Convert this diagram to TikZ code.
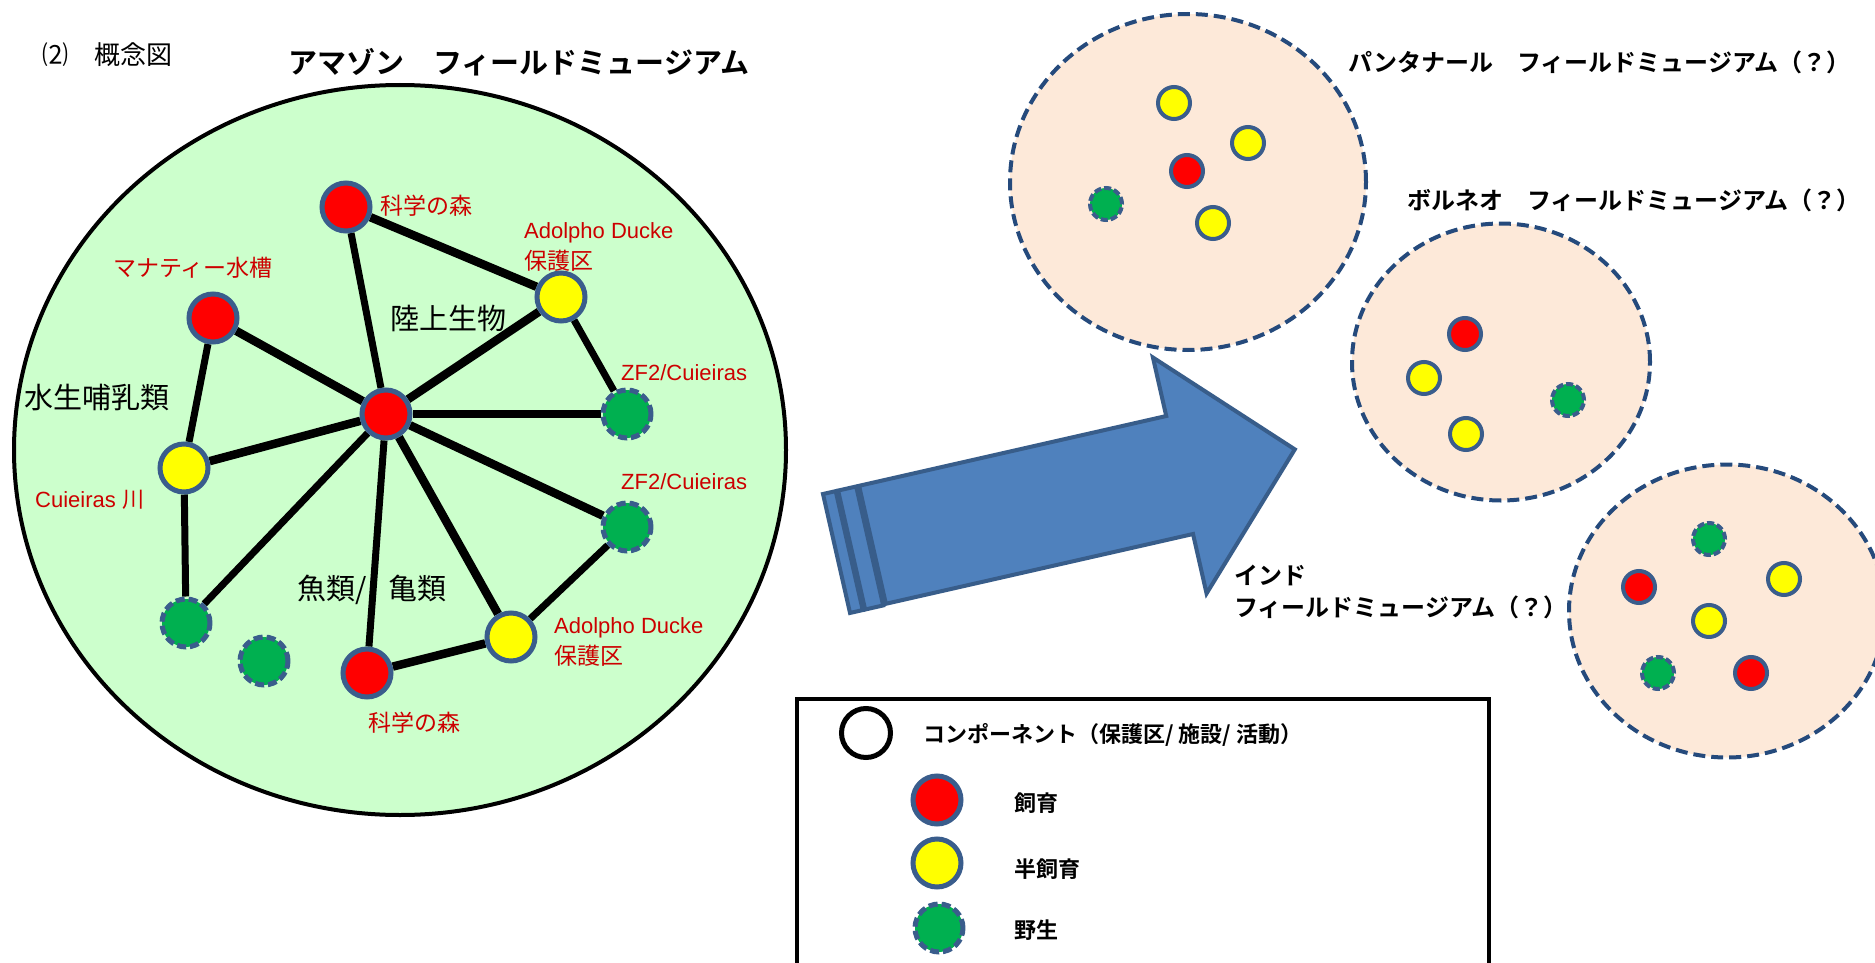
\documentclass[tikz,border=0pt]{standalone}
\usepackage{fontspec}
\newfontfamily\jp{Noto Sans CJK JP}
\newfontfamily\jpb{Noto Sans CJK JP Bold}
\newfontfamily\lat{Liberation Sans}
\usetikzlibrary{shapes.geometric}
\definecolor{nodeborder}{HTML}{3A5D8C}
\definecolor{nred}{HTML}{FF0000}
\definecolor{nyellow}{HTML}{FFFF00}
\definecolor{ngreen}{HTML}{00B050}
\definecolor{lightgreen}{HTML}{CCFFCC}
\definecolor{peach}{HTML}{FDE9D9}
\definecolor{dashblue}{HTML}{254A7C}
\definecolor{arrowfill}{HTML}{4F81BD}
\definecolor{arrowline}{HTML}{385D8A}
\definecolor{labred}{HTML}{CC0000}
\pgfdeclarelayer{bg}
\pgfdeclarelayer{edges}
\pgfsetlayers{bg,edges,main}
\tikzset{
  comp/.style={circle, draw=nodeborder, line width=5pt, minimum size=48pt, inner sep=0pt},
  rednode/.style={comp, fill=nred},
  yelnode/.style={comp, fill=nyellow},
  grnnode/.style={comp, fill=ngreen, dash pattern=on 9pt off 4pt},
  dot/.style={circle, draw=nodeborder, line width=4pt, minimum size=32pt, inner sep=0pt},
  reddot/.style={dot, fill=nred},
  yeldot/.style={dot, fill=nyellow},
  grndot/.style={dot, fill=ngreen, dash pattern=on 7pt off 3pt},
  medge/.style={line width=7pt},
  tedge/.style={line width=8.5pt},
  lab/.style={text=labred, inner sep=0pt, anchor=west, font=\lat\fontsize{22}{26}\selectfont},
  jlab/.style={text=labred, inner sep=0pt, anchor=west, font=\jp\fontsize{23}{27}\selectfont},
  cat/.style={inner sep=0pt, anchor=west, font=\jp\fontsize{29}{32}\selectfont},
  rtitle/.style={inner sep=0pt, anchor=west, font=\jpb\fontsize{24}{28}\selectfont},
  legtext/.style={inner sep=0pt, anchor=west, font=\jpb\fontsize{22}{26}\selectfont},
  museum/.style={ellipse, draw=dashblue, fill=peach, line width=4pt, dash pattern=on 12pt off 6pt, inner sep=0pt},
  arrowst/.style={draw=arrowline, fill=arrowfill, line width=4pt, line join=miter}
}
\begin{document}
\begin{tikzpicture}[x=1pt,y=-1pt]
\useasboundingbox (0,0) rectangle (1875,963);
\clip (0,0) rectangle (1875,963);

% headings
\node[inner sep=0pt, anchor=west, font=\jp\fontsize{26}{30}\selectfont] (sec) at (42,55) {⑵　概念図};
\node[inner sep=0pt, anchor=west, font=\jpb\fontsize{29}{32}\selectfont] (title) at (288,62) {アマゾン　フィールドミュージアム};

% Amazon field museum
\begin{pgfonlayer}{bg}
\fill[white] (0,0) rectangle (1875,963);
\node[ellipse, draw=black, line width=4pt, fill=lightgreen, minimum width=772pt, minimum height=730pt, inner sep=0pt] (amazon) at (400,450) {};
\end{pgfonlayer}

\node[rednode] (k1) at (346,207) {};
\node[yelnode] (a1) at (561,297) {};
\node[rednode] (m) at (213,318) {};
\node[rednode] (c) at (386,414) {};
\node[grnnode] (z1) at (627,414) {};
\node[yelnode] (cr) at (184,468) {};
\node[grnnode] (z2) at (627,527) {};
\node[grnnode] (g1) at (186,623) {};
\node[grnnode] (g2) at (264,661) {};
\node[rednode] (k2) at (367,673) {};
\node[yelnode] (a2) at (511,637) {};

\begin{pgfonlayer}{edges}
\draw[tedge] (k1) -- (a1);
\draw[medge] (k1) -- (c);
\draw[tedge] (m) -- (c);
\draw[tedge] (a1) -- (c);
\draw[medge] (a1) -- (z1);
\draw[tedge] (c) -- (z1);
\draw[medge] (m) -- (cr);
\draw[tedge] (cr) -- (c);
\draw[medge] (cr) -- (g1);
\draw[medge] (g1) -- (c);
\draw[medge] (c) -- (k2);
\draw[tedge] (c) -- (a2);
\draw[tedge] (c) -- (z2);
\draw[medge] (z2) -- (a2);
\draw[tedge] (k2) -- (a2);
\end{pgfonlayer}

\node[jlab] (lk1) at (380,206) {科学の森};
\node[lab] (la1a) at (524,233) {Adolpho Ducke};
\node[jlab] (la1b) at (524,261) {保護区};
\node[jlab] (lm) at (113,268) {マナティー水槽};
\node[lab] (lz1) at (621,373) {ZF2/Cuieiras};
\node[lab] (lz2) at (621,482) {ZF2/Cuieiras};
\node[lab] (lcr) at (35,500) {Cuieiras {\jp 川}};
\node[lab] (la2a) at (554,628) {Adolpho Ducke};
\node[jlab] (la2b) at (554,656) {保護区};
\node[jlab] (lk2) at (368,723) {科学の森};
\node[cat] (cat1) at (390,318) {陸上生物};
\node[cat] (cat2) at (24,397) {水生哺乳類};
\node[cat] (cat3) at (297,590) {魚類/\hspace{22pt}亀類};

% arrow
\begin{scope}[shift={(823,494)}, rotate=12.8]
\draw[arrowst] (0,0) rectangle (13,122);
\draw[arrowst] (15.5,0) rectangle (34,122);
\draw[arrowst] (37,0) -- (352,0) -- (352,-60) -- (470,61) -- (352,182) -- (352,121) -- (37,121) -- cycle;
\end{scope}

% Pantanal
\node[museum, minimum width=356pt, minimum height=336pt] (pan) at (1188,182) {};
\node[yeldot] (p1) at (1174,103) {};
\node[yeldot] (p2) at (1248,143) {};
\node[reddot] (p3) at (1187,171) {};
\node[grndot] (p4) at (1106,204) {};
\node[yeldot] (p5) at (1213,223) {};
\node[rtitle] (tpan) at (1348,62) {パンタナール　フィールドミュージアム（？）};

% Borneo
\node[museum, minimum width=298pt, minimum height=277pt] (bor) at (1501,362) {};
\node[reddot] (b1) at (1465,334) {};
\node[yeldot] (b2) at (1424,378) {};
\node[grndot] (b3) at (1568,400) {};
\node[yeldot] (b4) at (1466,434) {};
\node[rtitle] (tbor) at (1407,200) {ボルネオ　フィールドミュージアム（？）};

% India
\node[museum, minimum width=316pt, minimum height=293pt] (ind) at (1727,611) {};
\node[grndot] (i1) at (1709,539) {};
\node[reddot] (i2) at (1639,587) {};
\node[yeldot] (i3) at (1784,579) {};
\node[yeldot] (i4) at (1709,621) {};
\node[grndot] (i5) at (1658,673) {};
\node[reddot] (i6) at (1751,673) {};
\node[rtitle] (tind1) at (1234,575) {インド};
\node[rtitle] (tind2) at (1234,607) {フィールドミュージアム（？）};

% legend
\node[draw=black, line width=4pt, minimum width=692pt, minimum height=290pt, anchor=north west, inner sep=0pt] (legend) at (795,697) {};
\node[circle, draw=black, line width=5pt, fill=white, minimum size=49pt, inner sep=0pt] (lc) at (866,733) {};
\node[legtext] (lct) at (923,735) {コンポーネント（保護区/ 施設/ 活動）};
\node[rednode] (lr) at (937,800) {};
\node[legtext] (lrt) at (1014,803) {飼育};
\node[yelnode] (ly) at (937,863) {};
\node[legtext] (lyt) at (1014,869) {半飼育};
\node[grnnode] (lg) at (939,928) {};
\node[legtext] (lgt) at (1014,930) {野生};
\end{tikzpicture}
\end{document}
